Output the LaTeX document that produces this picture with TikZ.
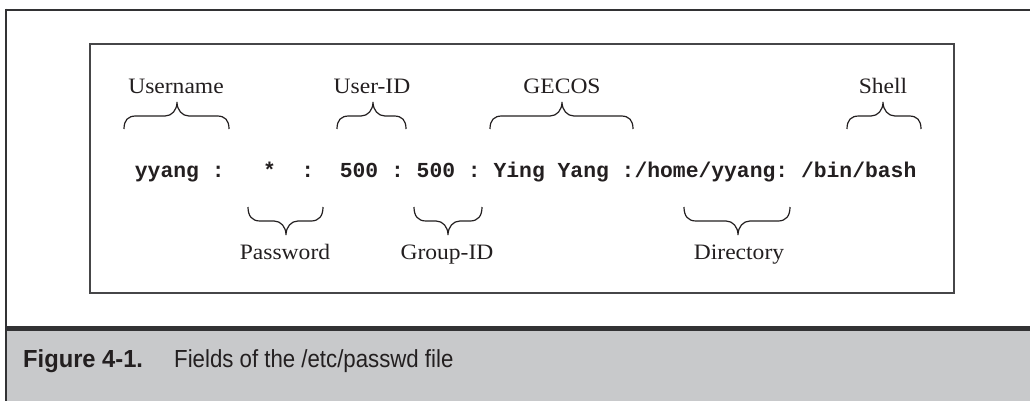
\documentclass[tikz,border=0pt]{standalone}
\usepackage{fontspec}
\newfontfamily\labfont{Liberation Serif}[FakeStretch=1.07]
\newfontfamily\monofont{Liberation Mono}
\newfontfamily\capregfont{Liberation Sans}[FakeStretch=0.9]
\newfontfamily\capboldfont{Liberation Sans}[FakeStretch=0.96]
\definecolor{ink}{RGB}{35,31,32}
\definecolor{framegray}{RGB}{50,50,52}
\definecolor{capfill}{RGB}{200,201,203}
\definecolor{boxline}{RGB}{70,70,72}
\tikzset{
  lab/.style={inner sep=0pt, anchor=base, text=ink, font=\labfont\fontsize{22}{25}\selectfont},
  rec/.style={inner sep=0pt, anchor=base west, text=ink, font=\frenchspacing\monofont\bfseries\fontsize{21.35}{24}\selectfont},
  bracestyle/.style={draw=ink, line width=1.2pt},
  capb/.style={inner sep=0pt, anchor=base west, text=ink, font=\capboldfont\bfseries\fontsize{24.7}{28}\selectfont},
  capr/.style={inner sep=0pt, anchor=base west, text=ink, font=\capregfont\fontsize{24.7}{28}\selectfont}
}
% top brace: left x, tip x, right x (y: ends 129, arms 116, tip 102)
\newcommand\mytopbrace[3]{%
  \draw[bracestyle] (#1,129) .. controls (#1,120) and (#1+4,116) .. (#1+12,116)
    -- (#2-12,116) .. controls (#2-5,116) and (#2,110) .. (#2,102)
    .. controls (#2,110) and (#2+5,116) .. (#2+12,116)
    -- (#3-12,116) .. controls (#3-4,116) and (#3,120) .. (#3,129);}
% bottom brace: ends 207, arms 221, tip 235
\newcommand\mybotbrace[3]{%
  \draw[bracestyle] (#1,207) .. controls (#1,216) and (#1+4,221) .. (#1+12,221)
    -- (#2-12,221) .. controls (#2-5,221) and (#2,227) .. (#2,235)
    .. controls (#2,227) and (#2+5,221) .. (#2+12,221)
    -- (#3-12,221) .. controls (#3-4,221) and (#3,216) .. (#3,207);}
\begin{document}
\begin{tikzpicture}[x=1pt, y=-1pt]
\useasboundingbox (0,0) rectangle (1030,401);
\fill[white] (0,0) rectangle (1030,401);
% caption band
\fill[capfill] (6,328) rectangle (1030,401);
\draw[framegray, line width=5pt] (6,328) -- (1030,328);
\draw[framegray, line width=2.5pt] (6,10) -- (1030,10);
\draw[framegray, line width=2.5pt] (6,8.75) -- (6,401);
% inner box
\draw[boxline, line width=1.2pt] (90,44) rectangle (954,293);
% record line
\node[rec] (record) at (134.7,177) {yyang :\ \ \ *\ \ :\ \ 500\ :\ 500\ :\ Ying\ Yang\ :/home/yyang:\ /bin/bash};
% labels
\node[lab] (username) at (176,94) {Username};
\node[lab] (userid) at (372,94) {User-ID};
\node[lab] (gecos) at (562,94) {GECOS};
\node[lab] (shell) at (883,94) {Shell};
\node[lab] (password) at (285,259) {Password};
\node[lab] (groupid) at (447,259) {Group-ID};
\node[lab] (directory) at (739,259) {Directory};
% braces
\mytopbrace{124}{177}{229}
\mytopbrace{337}{373}{406}
\mytopbrace{490}{562}{633}
\mytopbrace{847}{883}{921}
\mybotbrace{248}{286}{323}
\mybotbrace{414}{448}{482}
\mybotbrace{684}{738}{790}
% caption
\node[capb] (figno) at (23,367.7) {Figure 4-1.};
\node[capr] (captext) at (174,367.7) {Fields of the /etc/passwd file};
\end{tikzpicture}
\end{document}
